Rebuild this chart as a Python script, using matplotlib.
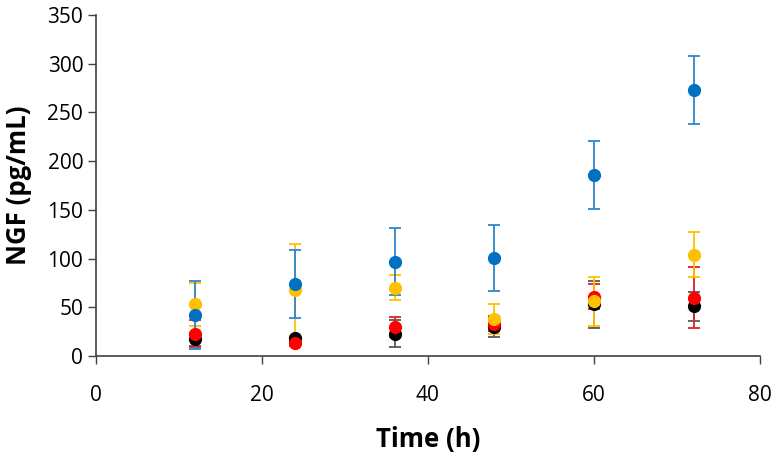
import matplotlib
matplotlib.use("Agg")
import matplotlib.pyplot as plt

# tempos (h) e NGF (pg/mL) por condicao, com desvio
tempo = [12, 24, 36, 48, 60, 72]

preto = [17, 18, 23, 30, 53, 51]
preto_err = [7, 3, 14, 11, 24, 15]

vermelho = [23, 13, 30, 33, 61, 60]
vermelho_err = [14, 3, 10, 7, 13, 31]

amarelo = [53, 68, 70, 38, 56, 104]
amarelo_err = [22, 47, 13, 15, 25, 23]

azul = [42, 74, 97, 101, 186, 273]
azul_err = [35, 35, 34, 34, 35, 35]

plt.rcParams["font.family"] = ["Open Sans", "DejaVu Sans"]

fig = plt.figure(figsize=(7.78, 4.57), dpi=100)
ax = fig.add_axes([0.123, 0.221, 0.854, 0.746])

series = [
    (preto, preto_err, "#000000", "#595959"),
    (vermelho, vermelho_err, "#FF0000", "#E02020"),
    (amarelo, amarelo_err, "#FFC000", "#FFC000"),
    (azul, azul_err, "#0070C0", "#2E86CF"),
]
for y, e, c, ce in series:
    ax.errorbar(tempo, y, yerr=e, fmt="o", color=c, ecolor=ce, ms=8.5,
                elinewidth=1.3, capsize=4, capthick=1.3, mec=c)

ax.set_xlim(0, 80); ax.set_ylim(0, 350)
ax.set_xticks(range(0, 81, 20)); ax.set_yticks(range(0, 351, 50))
for s in ["top", "right"]:
    ax.spines[s].set_visible(False)
for s in ["left", "bottom"]:
    ax.spines[s].set_color("#404040"); ax.spines[s].set_linewidth(1.2)
ax.tick_params(direction="out", length=6, width=1, color="#404040", labelsize=15)
ax.tick_params(axis="x", pad=15)
ax.tick_params(axis="y", pad=3)
ax.set_xlabel("Time (h)", fontsize=18.5, fontweight="bold", labelpad=14)
ax.set_ylabel("NGF (pg/mL)", fontsize=18.5, fontweight="bold", labelpad=11)

fig.savefig("out.png", dpi=100)
